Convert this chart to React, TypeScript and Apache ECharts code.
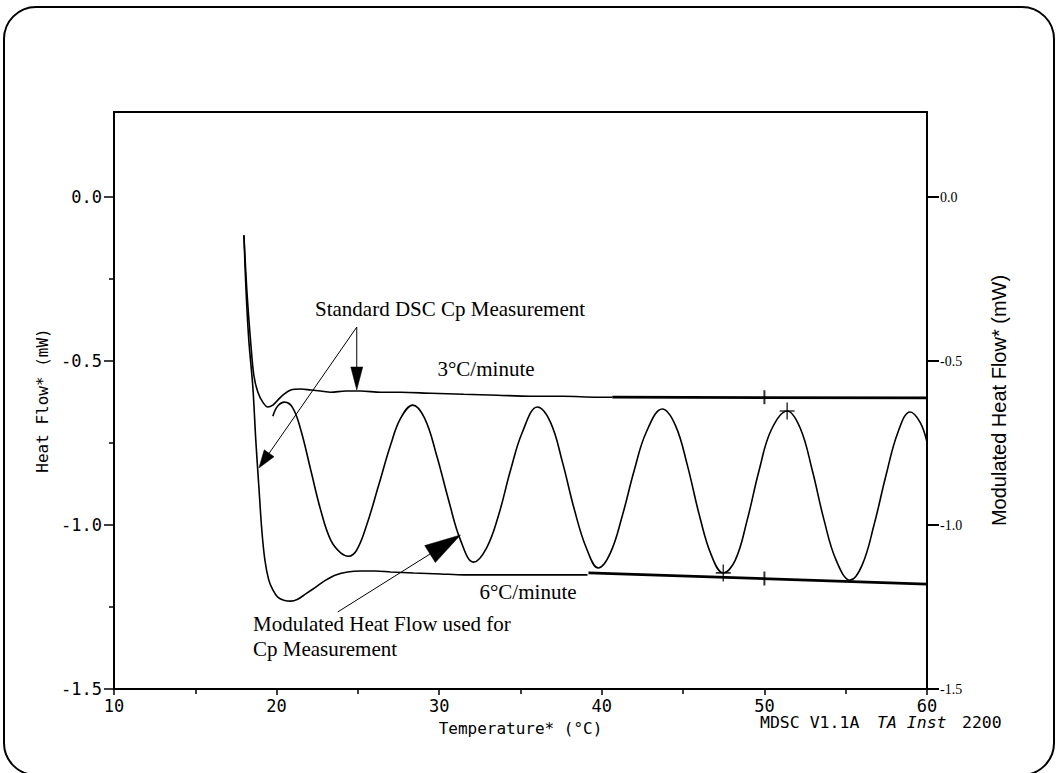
import React, { useEffect, useRef } from "react";
import * as echarts from "echarts";

// ---------- data ----------
const xTickValues = [10, 20, 30, 40, 50, 60];
const yTickValues = [-1.5, -1.0, -0.5, 0.0];
const yMinorTickValues = [-1.25, -0.75, -0.25];

// Standard DSC, 3 °C/minute
const rate3Curve: [number, number][] = [
  [17.99, -0.116], [18.17, -0.284], [18.42, -0.451], [18.6, -0.543], [18.85, -0.595],
  [19.15, -0.625], [19.46, -0.64], [19.77, -0.634], [20.07, -0.619], [20.44, -0.601],
  [20.87, -0.588], [21.49, -0.585], [22.1, -0.588], [22.71, -0.591], [23.33, -0.595],
  [24.25, -0.591], [25.17, -0.591], [26.4, -0.595], [27.63, -0.595], [29.47, -0.598],
  [31.5, -0.601], [33.59, -0.604], [35.61, -0.607], [37.64, -0.607], [39.73, -0.61],
  [40.65, -0.61],
];
const rate3Fit: [number, number][] = [[40.65, -0.61], [60, -0.612]];

// Standard DSC, 6 °C/minute
const rate6Curve: [number, number][] = [
  [17.99, -0.116], [18.11, -0.274], [18.29, -0.436], [18.54, -0.579], [18.72, -0.741],
  [18.91, -0.884], [19.09, -1.015], [19.28, -1.107], [19.52, -1.168], [19.77, -1.198],
  [20.07, -1.22], [20.44, -1.229], [20.87, -1.232], [21.3, -1.226], [21.79, -1.21],
  [22.41, -1.189], [23.02, -1.168], [23.64, -1.152], [24.37, -1.143], [25.17, -1.14],
  [26.09, -1.14], [27.01, -1.143], [28.43, -1.146], [30.09, -1.149], [31.5, -1.152],
  [35.61, -1.152], [39.12, -1.152],
];
const rate6Fit: [number, number][] = [[39.18, -1.146], [60, -1.18]];

// Modulated heat flow (right axis)
const modulatedCurve: [number, number][] = [
  [19.77, -0.668], [20.07, -0.637], [20.5, -0.625], [21.0, -0.643], [21.49, -0.71],
  [22.1, -0.832], [22.71, -0.954], [23.33, -1.046], [23.94, -1.085], [24.43, -1.095],
  [24.93, -1.076], [25.54, -1.0], [26.28, -0.878], [27.01, -0.756], [27.63, -0.674],
  [28.37, -0.634], [29.1, -0.674], [29.84, -0.787], [30.58, -0.924], [31.31, -1.046],
  [32.11, -1.113], [32.91, -1.07], [33.65, -0.97], [34.39, -0.832], [35.12, -0.716],
  [36.04, -0.64], [36.84, -0.686], [37.58, -0.808], [38.32, -0.954], [39.05, -1.07],
  [39.79, -1.131], [40.53, -1.085], [41.27, -0.97], [42.0, -0.832], [42.74, -0.716],
  [43.72, -0.646], [44.52, -0.695], [45.26, -0.817], [46.0, -0.97], [46.73, -1.091],
  [47.47, -1.146], [48.21, -1.107], [48.94, -0.985], [49.68, -0.832], [50.42, -0.71],
  [51.4, -0.652], [52.2, -0.704], [52.94, -0.832], [53.67, -0.985], [54.41, -1.107],
  [55.27, -1.168], [56.01, -1.122], [56.74, -1.0], [57.48, -0.848], [58.22, -0.716],
  [58.96, -0.655], [59.57, -0.686], [60.0, -0.747],
];

// cursor marks on the curves
const crossMarks: [number, number][] = [[47.47, -1.146], [51.4, -0.652]];
const lineMarks: [number, number][] = [[50, -0.61], [50, -1.163]];

// annotation anchors (data units)
const dscArrowOrigin: [number, number] = [24.93, -0.396];
const dscArrowTips: [number, number][] = [[24.93, -0.588], [18.91, -0.826]];
const modArrowTail: [number, number] = [23.76, -1.265];
const modArrowTip: [number, number] = [31.31, -1.03];

const MONO = "DejaVu Sans Mono";
const SERIF = "Liberation Serif";
const SANS = "Liberation Sans";

function arrow(from: number[], tip: number[], len: number, w: number) {
  const dx = tip[0] - from[0];
  const dy = tip[1] - from[1];
  const d = Math.hypot(dx, dy);
  const ux = dx / d;
  const uy = dy / d;
  const bx = tip[0] - ux * len;
  const by = tip[1] - uy * len;
  const nx = -uy;
  const ny = ux;
  return [
    {
      type: "line",
      silent: true,
      shape: { x1: from[0], y1: from[1], x2: bx + ux * 2, y2: by + uy * 2 },
      style: { stroke: "#000", lineWidth: 1 },
    },
    {
      type: "polygon",
      silent: true,
      shape: {
        points: [
          [tip[0], tip[1]],
          [bx + (nx * w) / 2, by + (ny * w) / 2],
          [bx - (nx * w) / 2, by - (ny * w) / 2],
        ],
      },
      style: { fill: "#000", stroke: "#000", lineWidth: 0.5 },
    },
  ];
}

export default function App() {
  const ref = useRef<HTMLDivElement>(null);

  useEffect(() => {
    const chart = echarts.init(ref.current!, null, { renderer: "svg" });

    const yCommon = {
      type: "value",
      min: -1.5,
      max: 0.26,
      splitLine: { show: false },
    };

    chart.setOption({
      animation: false,
      backgroundColor: "#fff",
      grid: { left: 114, right: 129, top: 112, bottom: 84, containLabel: false },
      xAxis: [
        {
          type: "value",
          min: 10,
          max: 60,
          interval: 10,
          position: "bottom",
          name: "Temperature* (°C)",
          nameLocation: "middle",
          nameGap: 31,
          nameTextStyle: { fontFamily: MONO, fontSize: 16, color: "#000", padding: [0, 0, 0, 0] },
          axisLine: { show: true, onZero: false, lineStyle: { color: "#000", width: 2 } },
          axisTick: { show: true, inside: false, length: 6, lineStyle: { color: "#000", width: 1.5 } },
          minorTick: { show: true, splitNumber: 2, length: 5, lineStyle: { color: "#000", width: 1.5 } },
          axisLabel: { fontFamily: MONO, fontSize: 17, color: "#000", margin: 8 },
          splitLine: { show: false },
          minorSplitLine: { show: false },
        },
        {
          type: "value",
          min: 10,
          max: 60,
          position: "top",
          axisLine: { show: true, onZero: false, lineStyle: { color: "#000", width: 2 } },
          axisTick: { show: false },
          axisLabel: { show: false },
          splitLine: { show: false },
        },
      ],
      yAxis: [
        {
          ...yCommon,
          position: "left",
          name: "Heat Flow* (mW)",
          nameLocation: "middle",
          nameRotate: 90,
          nameGap: 62,
          nameTextStyle: { fontFamily: MONO, fontSize: 16, color: "#000" },
          axisLine: { show: true, onZero: false, lineStyle: { color: "#000", width: 2 } },
          axisTick: { show: true, length: 10, customValues: yTickValues, lineStyle: { color: "#000", width: 1.5 } },
          axisLabel: {
            customValues: yTickValues,
            fontFamily: MONO,
            fontSize: 17,
            color: "#000",
            margin: 12,
            formatter: (v: number) => v.toFixed(1),
          },
        },
        {
          ...yCommon,
          position: "right",
          name: "Modulated Heat Flow* (mW)",
          nameLocation: "middle",
          nameRotate: 90,
          nameGap: 62,
          nameTextStyle: { fontFamily: SANS, fontSize: 20, color: "#000" },
          axisLine: { show: true, onZero: false, lineStyle: { color: "#000", width: 2 } },
          axisTick: { show: true, length: 12, customValues: yTickValues, lineStyle: { color: "#000", width: 2 } },
          axisLabel: {
            customValues: yTickValues,
            fontFamily: SERIF,
            fontSize: 14,
            color: "#000",
            margin: 13,
            formatter: (v: number) => v.toFixed(1),
          },
        },
        {
          ...yCommon,
          position: "left",
          axisLine: { show: false, onZero: false },
          axisTick: { show: true, length: 5, customValues: yMinorTickValues, lineStyle: { color: "#000", width: 1.5 } },
          axisLabel: { show: false },
        },
      ],
      series: [
        {
          name: "3°C/minute",
          type: "line",
          data: rate3Curve,
          smooth: 0.3,
          showSymbol: false,
          lineStyle: { color: "#000", width: 1.6 },
        },
        {
          name: "3°C/minute fit",
          type: "line",
          data: rate3Fit,
          showSymbol: false,
          lineStyle: { color: "#000", width: 2.8 },
        },
        {
          name: "6°C/minute",
          type: "line",
          data: rate6Curve,
          smooth: 0.3,
          showSymbol: false,
          lineStyle: { color: "#000", width: 1.6 },
        },
        {
          name: "6°C/minute fit",
          type: "line",
          data: rate6Fit,
          showSymbol: false,
          lineStyle: { color: "#000", width: 2.8 },
        },
        {
          name: "Modulated Heat Flow",
          type: "line",
          yAxisIndex: 1,
          data: modulatedCurve,
          smooth: 0.4,
          showSymbol: false,
          lineStyle: { color: "#000", width: 1.6 },
        },
        {
          name: "cross marks",
          type: "scatter",
          data: crossMarks,
          symbol: "path://M-1,-10H1V10H-1Z M-10,-1H10V1H-10Z",
          symbolSize: [15, 17],
          itemStyle: { color: "#000" },
          z: 5,
        },
        {
          name: "line marks",
          type: "scatter",
          data: lineMarks,
          symbol: "path://M-1,-10H1V10H-1Z",
          symbolSize: [2, 14],
          itemStyle: { color: "#000" },
          z: 5,
        },
      ],
    });

    const px = (p: number[]) =>
      chart.convertToPixel({ xAxisIndex: 0, yAxisIndex: 0 }, p) as number[];

    const o = px(dscArrowOrigin);
    const t1 = px(dscArrowTips[0]);
    const t2 = px(dscArrowTips[1]);
    const mt = px(modArrowTail);
    const mh = px(modArrowTip);

    const serifText = (text: string, x: number, y: number, align: string = "center") => ({
      type: "text",
      silent: true,
      x,
      y,
      style: {
        text,
        fontFamily: SERIF,
        fontSize: 21,
        fill: "#000",
        align,
        verticalAlign: "middle",
      },
    });

    const monoText = (text: string, x: number, italic = false) => ({
      type: "text",
      silent: true,
      x,
      y: 722,
      style: {
        text,
        fontFamily: MONO,
        fontSize: 16.5,
        fontStyle: italic ? "italic" : "normal",
        fill: "#000",
        align: "left",
        verticalAlign: "middle",
      },
    });

    chart.setOption({
      graphic: [
        {
          type: "rect",
          silent: true,
          shape: { x: 4, y: 7, width: 1050, height: 768, r: 32 },
          style: { fill: "none", stroke: "#000", lineWidth: 2 },
          z: -10,
        },
        ...arrow(o, t1, 23, 12),
        ...arrow(o, t2, 18, 12),
        ...arrow(mt, mh, 36, 20),
        serifText("Standard DSC Cp Measurement", 450, 309),
        serifText("3°C/minute", 486, 369),
        serifText("6°C/minute", 528, 592),
        serifText("Modulated Heat Flow used for", 253, 624, "left"),
        serifText("Cp Measurement", 253, 649, "left"),
        monoText("MDSC V1.1A", 760),
        monoText("TA Inst", 877, true),
        monoText("2200", 962),
      ],
    });

    return () => chart.dispose();
  }, []);

  return (
    <div
      ref={ref}
      style={{ position: "fixed", left: 0, top: 0, width: 1056, height: 773, background: "#fff" }}
    />
  );
}
